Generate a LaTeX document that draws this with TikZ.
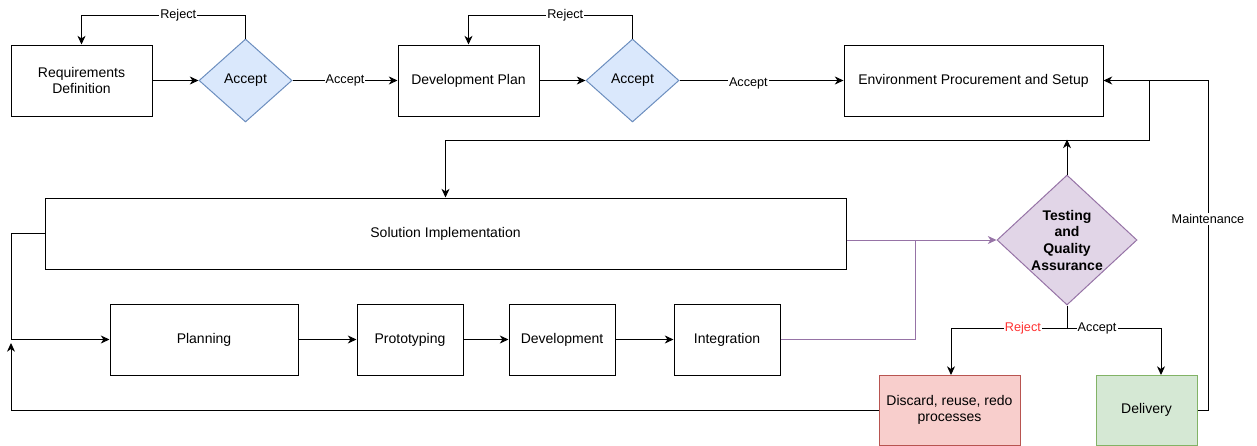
\documentclass[tikz,border=0pt]{standalone}
\usepackage{fontspec}
\setmainfont{Liberation Sans}
\usetikzlibrary{shapes.geometric,arrows.meta}
\definecolor{bluefill}{HTML}{DAE8FC}\definecolor{bluedraw}{HTML}{6C8EBF}
\definecolor{purpfill}{HTML}{E1D5E7}\definecolor{purpdraw}{HTML}{9673A6}
\definecolor{redfill}{HTML}{F8CECC}\definecolor{reddraw}{HTML}{B85450}
\definecolor{greenfill}{HTML}{D5E8D4}\definecolor{greendraw}{HTML}{82B366}
\definecolor{rejred}{HTML}{FF3333}
\begin{document}
\begin{tikzpicture}[x=0.75pt,y=-0.75pt,line width=0.75pt,
  font=\fontsize{10.5}{12.5}\selectfont,
  box/.style={draw, rectangle, minimum height=53.25pt, align=center, inner sep=0pt, fill=white},
  dia/.style={draw, diamond, inner sep=0pt, align=center},
  arr/.style={-{Stealth[length=6.5pt,width=6pt,inset=2pt]}},
  lbl/.style={fill=white, inner sep=0.8pt, font=\fontsize{9.5}{11}\selectfont}]
\useasboundingbox (0,0) rectangle (1257,446);

% top row
\node[box, minimum width=105.75pt] (req) at (81.5,80.5) {Requirements\\Definition};
\node[dia, fill=bluefill, draw=bluedraw, minimum width=69.75pt, minimum height=62.25pt] (acc1) at (245.5,80.5) {Accept};
\node[box, minimum width=105.75pt] (dplan) at (468.5,80.5) {Development Plan};
\node[dia, fill=bluefill, draw=bluedraw, minimum width=69.75pt, minimum height=62.25pt] (acc2) at (632.5,80.5) {Accept};
\node[box, minimum width=194.25pt] (env) at (973.5,80.5) {Environment Procurement and Setup};

% middle
\node[box, minimum width=600.75pt] (sol) at (445.5,233.5) {Solution Implementation};
\node[dia, fill=purpfill, draw=purpdraw, aspect=1.08, minimum width=105pt, minimum height=97.5pt, font=\bfseries\fontsize{10.5}{12.5}\selectfont] (tqa) at (1067,240) {Testing\\and\\Quality\\Assurance};

% bottom row
\node[box, minimum width=141pt] (plan) at (204,339.5) {Planning};
\node[box, minimum width=79.5pt] (proto) at (410,339.5) {Prototyping};
\node[box, minimum width=79.5pt] (devl) at (562,339.5) {Development};
\node[box, minimum width=79.5pt] (integ) at (727,339.5) {Integration};
\node[box, fill=redfill, draw=reddraw, minimum width=105.75pt, minimum height=52.5pt] (disc) at (949.5,410) {Discard, reuse, redo\\processes};
\node[box, fill=greenfill, draw=greendraw, minimum width=75.75pt, minimum height=52.5pt] (del) at (1146.5,410) {Delivery};

% top connectors
\draw[arr] (req) -- (acc1);
\draw[arr] (acc1.north) -- ++(0,-23.5) -| node[lbl,pos=0.205]{Reject} (req.north);
\draw[arr] (acc1) -- node[lbl,pos=0.5]{Accept} (dplan);
\draw[arr] (dplan) -- (acc2);
\draw[arr] (acc2.north) -- ++(0,-23.5) -| node[lbl,pos=0.205]{Reject} (dplan.north);
\draw[arr] (acc2) -- node[lbl,pos=0.42,yshift=-2pt]{Accept} (env);

% env to solution
\draw[arr] (env.east) -- (1149,80.5) -- (1149,140) -| (sol.north);
\draw[arr] (tqa.north) -- ++(0,-35);

% maintenance loop
\draw[arr] (del.east) -- (1208,410) -- node[lbl,pos=0.58]{Maintenance} (1208,80.5) -- (env.east);

% purple into TQA
\draw[arr, draw=purpdraw] (sol.east |- tqa.west) -- (tqa.west);
\coordinate (pj) at (915,240);
\draw[draw=purpdraw] (integ.east) -| (pj);

% left loops
\draw[arr] (sol.west) -- (11,233.5) |- (plan.west);
\draw[arr] (disc.west) -| (11,343);

% bottom chain
\draw[arr] (plan) -- (proto);
\draw[arr] (proto) -- (devl);
\draw[arr] (devl) -- (integ);

% TQA outcomes
\coordinate (sp) at (1067,328);
\coordinate (dtop) at (1161,375);
\coordinate (xtop) at (951,375);
\draw (tqa.south) -- (sp);
\draw[arr] (sp) -| node[lbl,pos=0.19,text=rejred]{Reject} (xtop);
\draw[arr] (sp) -| node[lbl,pos=0.16]{Accept} (dtop);
\end{tikzpicture}
\end{document}
